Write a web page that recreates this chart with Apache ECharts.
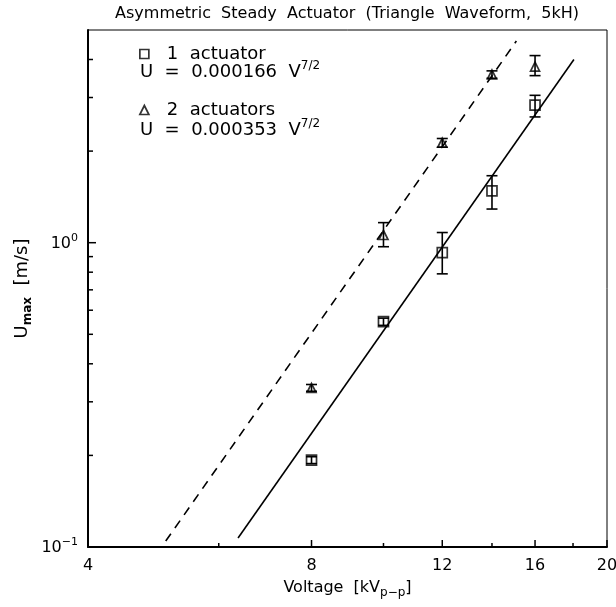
<!DOCTYPE html>
<html><head><meta charset="utf-8">
<script src="https://cdn.jsdelivr.net/npm/echarts/dist/echarts.min.js"></script>
<style>html,body{margin:0;padding:0;background:#fff}#c{width:616px;height:607px}</style>
</head><body><div id="c"></div>
<script>
// ---- data ----
const titleText = 'Asymmetric  Steady  Actuator  (Triangle  Waveform,  5kH)';
const seriesNames = ['1  actuator', '2  actuators'];
const fitCoefficients = ['0.000166', '0.000353'];
const voltage = [8, 10, 12, 14, 16];
const u1 = [0.193, 0.55, 0.927, 1.48, 2.83];
const u1Low = [0.188, 0.535, 0.79, 1.29, 2.59];
const u1High = [0.198, 0.565, 1.08, 1.66, 3.05];
const u2 = [0.333, 1.06, 2.13, 3.57, 3.79];
const u2Low = [0.325, 0.97, 2.06, 3.47, 3.54];
const u2High = [0.342, 1.164, 2.2, 3.67, 4.12];
const fit1 = [[6.37, 0.107], [18.05, 4.0]];
const fit2 = [[5.09, 0.1046], [15.1, 4.6]];
const xMajorTicks = [4, 8, 12, 16, 20];
const xTickLabels = ['4', '8', '12', '16', '20'];
const xMinorTicks = [6, 10, 14, 18];
const yMajorTicks = [0.1, 1];
const yTickExponents = ['\u22121', '0'];
const yMinorTicks = [0.2, 0.3, 0.4, 0.5, 0.6, 0.7, 0.8, 0.9, 2, 3, 4];
const X_MIN = 4, X_MAX = 20, Y_MIN = 0.1, Y_MAX = 5;

// ---- styling ----
const FF = '"DejaVu Sans", sans-serif';
const BLACK = '#000';
const chart = echarts.init(document.getElementById('c'), null, {renderer: 'canvas'});

function xTickRender(major) {
  return function (params, api) {
    const p = api.coord([api.value(0), Y_MIN]);
    const len = major ? 7 : 4;
    const children = [{type: 'line', shape: {x1: p[0], y1: p[1], x2: p[0], y2: p[1] - len},
      style: {stroke: BLACK, lineWidth: 1.5}}];
    if (major) {
      children.push({type: 'text', x: p[0], y: p[1] + 11,
        style: {text: xTickLabels[params.dataIndex], fill: BLACK, fontSize: 16, fontFamily: FF,
          align: 'center', verticalAlign: 'top'}});
    }
    return {type: 'group', children: children};
  };
}
function yTickRender(major) {
  return function (params, api) {
    const p = api.coord([X_MIN, api.value(1)]);
    const len = major ? 8 : 5;
    const children = [{type: 'line', shape: {x1: p[0], y1: p[1], x2: p[0] + len, y2: p[1]},
      style: {stroke: BLACK, lineWidth: 1.5}}];
    if (major) {
      children.push({type: 'text', x: p[0] - 10, y: p[1] + 1,
        style: {text: '{b|10}{s|' + yTickExponents[params.dataIndex] + '}', align: 'right', verticalAlign: 'middle',
          rich: {b: {fontSize: 16, fontFamily: FF, fill: BLACK, color: BLACK, lineHeight: 22},
                 s: {fontSize: 11, fontFamily: FF, fill: BLACK, color: BLACK, lineHeight: 11, verticalAlign: 'top'}}}});
    }
    return {type: 'group', children: children};
  };
}
function errorRender(params, api) {
  const x = api.value(0);
  const top = api.coord([x, api.value(2)]);
  const bot = api.coord([x, api.value(1)]);
  const hw = 5.5;
  const st = {stroke: BLACK, lineWidth: 1.6};
  return {type: 'group', children: [
    {type: 'line', shape: {x1: top[0], y1: top[1], x2: bot[0], y2: bot[1]}, style: st},
    {type: 'line', shape: {x1: top[0] - hw, y1: top[1], x2: top[0] + hw, y2: top[1]}, style: st},
    {type: 'line', shape: {x1: bot[0] - hw, y1: bot[1], x2: bot[0] + hw, y2: bot[1]}, style: st}
  ]};
}
const markerStyle = {color: 'rgba(0,0,0,0)', borderColor: BLACK, borderWidth: 1.7};
const formulaRich = {a: {fontSize: 18, fontFamily: FF, fill: BLACK, color: BLACK, lineHeight: 24},
  s: {fontSize: 12, fontFamily: FF, fill: BLACK, color: BLACK, lineHeight: 12, verticalAlign: 'top'}};

const option = {
  animation: false,
  backgroundColor: '#fff',
  textStyle: {fontFamily: FF, color: BLACK},
  grid: {left: 88, right: 9, top: 30, bottom: 60, containLabel: false, outerBoundsMode: 'none',
    show: true, borderColor: BLACK, borderWidth: 1, backgroundColor: 'transparent'},
  graphic: [
    {type: 'text', x: 347, y: 14, silent: true,
      style: {text: titleText, fontSize: 16, fontFamily: FF, fill: BLACK, align: 'center', verticalAlign: 'middle'}},
    {type: 'text', x: 140, y: 72, silent: true,
      style: {text: '{a|U  =  ' + fitCoefficients[0] + '  V}{s|7/2}', align: 'left', verticalAlign: 'middle',
        rich: formulaRich}},
    {type: 'text', x: 140, y: 130, silent: true,
      style: {text: '{a|U  =  ' + fitCoefficients[1] + '  V}{s|7/2}', align: 'left', verticalAlign: 'middle',
        rich: formulaRich}}
  ],
  legend: {
    orient: 'vertical', left: 139, top: 44, padding: 0, itemGap: 36,
    itemWidth: 9, itemHeight: 9, selectedMode: false,
    data: [{name: seriesNames[0], icon: 'rect'}, {name: seriesNames[1], icon: 'triangle'}],
    itemStyle: markerStyle,
    formatter: function (n) { return '{t|' + n + '}'; },
    textStyle: {fontSize: 18, fontFamily: FF, color: BLACK, lineHeight: 20,
      rich: {t: {fontSize: 18, fontFamily: FF, color: BLACK, lineHeight: 20, padding: [0, 0, 0, 13]}}}
  },
  xAxis: {
    type: 'log', logBase: 10, min: X_MIN, max: X_MAX,
    axisLine: {show: true, onZero: false, lineStyle: {color: BLACK, width: 2}},
    axisTick: {show: false}, axisLabel: {show: false}, splitLine: {show: false},
    minorTick: {show: false}, minorSplitLine: {show: false},
    name: '{a|Voltage  [kV}{s|p\u2212p}{a|]}', nameLocation: 'middle', nameGap: 30, nameMoveOverlap: false,
    nameTextStyle: {rich: {a: {fontSize: 16, fontFamily: FF, color: BLACK, lineHeight: 22},
      s: {fontSize: 12, fontFamily: FF, color: BLACK, lineHeight: 12, verticalAlign: 'bottom'}}}
  },
  yAxis: {
    type: 'log', logBase: 10, min: Y_MIN, max: Y_MAX,
    axisLine: {show: true, onZero: false, lineStyle: {color: BLACK, width: 2}},
    axisTick: {show: false}, axisLabel: {show: false}, splitLine: {show: false},
    minorTick: {show: false}, minorSplitLine: {show: false},
    name: '{a|U}{s|max}{a|  [m/s]}', nameLocation: 'middle', nameRotate: 90, nameGap: 54, nameMoveOverlap: false,
    nameTextStyle: {rich: {a: {fontSize: 18, fontFamily: FF, color: BLACK, lineHeight: 24},
      s: {fontSize: 12, fontFamily: FF, color: BLACK, lineHeight: 12, verticalAlign: 'bottom', fontWeight: 'bold'}}}
  },
  series: [
    {type: 'line', name: 'fit1', data: fit1, showSymbol: false, silent: true,
      lineStyle: {color: BLACK, width: 1.6, type: 'solid'}, z: 3},
    {type: 'line', name: 'fit2', data: fit2, showSymbol: false, silent: true,
      lineStyle: {color: BLACK, width: 1.6, type: [9, 7]}, z: 3},
    {type: 'scatter', name: seriesNames[0], data: voltage.map((v, i) => [v, u1[i]]),
      symbol: 'rect', symbolSize: 10, itemStyle: markerStyle, silent: true, z: 4},
    {type: 'scatter', name: seriesNames[1], data: voltage.map((v, i) => [v, u2[i]]),
      symbol: 'triangle', symbolSize: 9, itemStyle: markerStyle, silent: true, z: 4},
    {type: 'custom', name: 'err1', data: voltage.map((v, i) => [v, u1Low[i], u1High[i]]),
      encode: {x: 0, y: [1, 2]}, renderItem: errorRender, silent: true, z: 5, clip: false},
    {type: 'custom', name: 'err2', data: voltage.map((v, i) => [v, u2Low[i], u2High[i]]),
      encode: {x: 0, y: [1, 2]}, renderItem: errorRender, silent: true, z: 5, clip: false},
    {type: 'custom', name: 'xMajor', data: xMajorTicks.map(v => [v, Y_MIN]), encode: {x: 0, y: 1},
      renderItem: xTickRender(true), silent: true, z: 6, clip: false},
    {type: 'custom', name: 'xMinor', data: xMinorTicks.map(v => [v, Y_MIN]), encode: {x: 0, y: 1},
      renderItem: xTickRender(false), silent: true, z: 6, clip: false},
    {type: 'custom', name: 'yMajor', data: yMajorTicks.map(v => [X_MIN, v]), encode: {x: 0, y: 1},
      renderItem: yTickRender(true), silent: true, z: 6, clip: false},
    {type: 'custom', name: 'yMinor', data: yMinorTicks.map(v => [X_MIN, v]), encode: {x: 0, y: 1},
      renderItem: yTickRender(false), silent: true, z: 6, clip: false}
  ]
};
chart.setOption(option);
</script></body></html>
